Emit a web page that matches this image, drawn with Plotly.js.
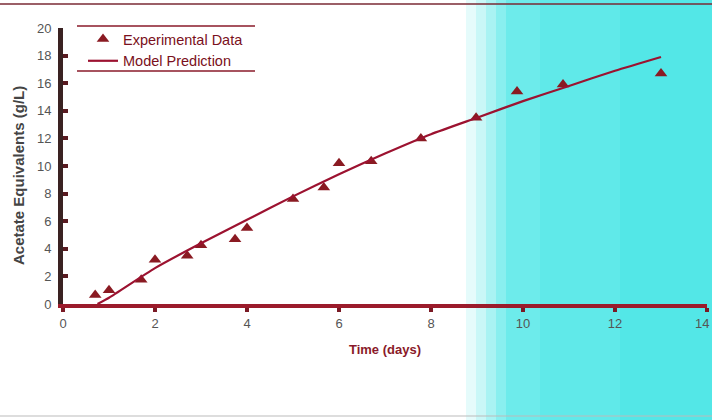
<!DOCTYPE html>
<html>
<head>
<meta charset="utf-8">
<script src="https://cdn.plot.ly/plotly-3.0.1.min.js"></script>
<style>html,body{margin:0;padding:0;background:#fff}#chart{width:712px;height:420px}</style>
</head>
<body>
<div id="chart"></div>
<script>
var expTime = [0.7, 1.0, 1.7, 2.0, 2.7, 3.0, 3.74, 4.0, 5.0, 5.67, 6.0, 6.7, 7.78, 8.98, 9.87, 10.87, 13.0];
var expAcetate = [0.65, 1.0, 1.75, 3.2, 3.5, 4.25, 4.7, 5.5, 7.6, 8.45, 10.2, 10.35, 12.0, 13.5, 15.4, 15.9, 16.7];
// Model prediction curve
var modelTime = [0.75, 1, 2, 3, 4, 5, 6, 7, 8, 9, 10, 11, 12, 13];
var modelAcetate = [0.0, 0.45, 2.6, 4.4, 6.1, 7.8, 9.4, 10.9, 12.3, 13.5, 14.7, 15.8, 16.9, 17.9];
var xTicks = [0, 2, 4, 6, 8, 10, 12, 14];
var yTicks = [0, 2, 4, 6, 8, 10, 12, 14, 16, 18, 20];
var xTitle = 'Time (days)';
var yTitle = 'Acetate Equivalents (g/L)';

var red = '#9c1230';
var markerCol = '#8a1a22';

// scan-tint band on the right (paper coordinates computed from pixel edges)
var L = 63, W = 644, B = 304, H = 276;
function px(x){return (x - L)/W;}
function py(y){return (B - y)/H;}
var shapes = [];
var bands = [[466,476,0.12],[476,486,0.25],[486,496,0.4],[496,506,0.55],[506,540,0.68],[540,620,0.74],[620,712,0.8]];
bands.forEach(function(b){
  shapes.push({type:'rect', xref:'paper', yref:'paper', x0:px(b[0]), x1:px(b[1]), y0:py(420), y1:py(0),
    fillcolor:'rgba(40,225,225,'+b[2]+')', line:{width:0}, layer:'below'});
});
// top and bottom rules of the scanned page
shapes.push({type:'line', xref:'paper', yref:'paper', x0:px(0), x1:px(712), y0:py(4), y1:py(4), line:{color:'#7a2a35', width:1.5}});
shapes.push({type:'line', xref:'paper', yref:'paper', x0:px(0), x1:px(712), y0:py(416), y1:py(416), line:{color:'#bbbbbb', width:1}});
// legend rules
shapes.push({type:'line', xref:'paper', yref:'paper', x0:px(77), x1:px(255), y0:py(26), y1:py(26), line:{color:'#8a1a2a', width:1.5}});
shapes.push({type:'line', xref:'paper', yref:'paper', x0:px(77), x1:px(255), y0:py(71), y1:py(71), line:{color:'#8a1a2a', width:1.5}});

var traces = [
  {x: expTime, y: expAcetate, mode:'markers', type:'scatter', name:'Experimental Data',
   marker:{symbol:'triangle-up', size:11, color:markerCol}},
  {x: modelTime, y: modelAcetate, mode:'lines', type:'scatter', name:'Model Prediction',
   line:{color:red, width:2.2, shape:'spline', smoothing:0.6}}
];

var layout = {
  width:712, height:420,
  margin:{l:63, r:5, t:28, b:116},
  paper_bgcolor:'rgba(0,0,0,0)', plot_bgcolor:'rgba(0,0,0,0)',
  font:{family:'Liberation Sans, Arial, sans-serif', size:13, color:'#555'},
  showlegend:true,
  legend:{x:px(83), y:py(23), xanchor:'left', yanchor:'top', bgcolor:'rgba(0,0,0,0)',
    font:{size:14.5, color:'#7a1020'}, tracegroupgap:0, itemwidth:30},
  xaxis:{range:[0,14], tickvals:xTicks, ticktext:xTicks.map(String), showgrid:false, zeroline:false,
    showline:true, linecolor:'#9b1b2b', linewidth:4, ticks:'outside', ticklen:4, tickwidth:4, tickcolor:'#7a1a25',
    tickfont:{size:13, color:'#555'},
    title:{text:'<b>' + xTitle + '</b>', font:{size:13, color:'#8a1a2a'}, standoff:16}},
  yaxis:{range:[0,20], tickvals:yTicks, ticktext:yTicks.map(String), showgrid:false, zeroline:false,
    showline:true, linecolor:'#3a2222', linewidth:5, ticks:'inside', ticklen:5, tickwidth:4, tickcolor:'#5a1a20',
    ticklabelstandoff:4,
    tickfont:{size:13, color:'#555'}},
  annotations:[
    {xref:'paper', yref:'paper', x:px(19), y:py(176), xanchor:'center', yanchor:'middle',
     text:'<b>' + yTitle + '</b>', textangle:-90, showarrow:false, font:{size:15, color:'#444'}},
    {xref:'x', yref:'paper', x:xTicks[xTicks.length-1], y:py(323), xanchor:'right', yanchor:'middle', xshift:4,
     text:String(xTicks[xTicks.length-1]), showarrow:false, font:{size:13, color:'#555'}}
  ],
  shapes:shapes
};

Plotly.newPlot('chart', traces, layout, {displayModeBar:false, staticPlot:true});
</script>
</body>
</html>
